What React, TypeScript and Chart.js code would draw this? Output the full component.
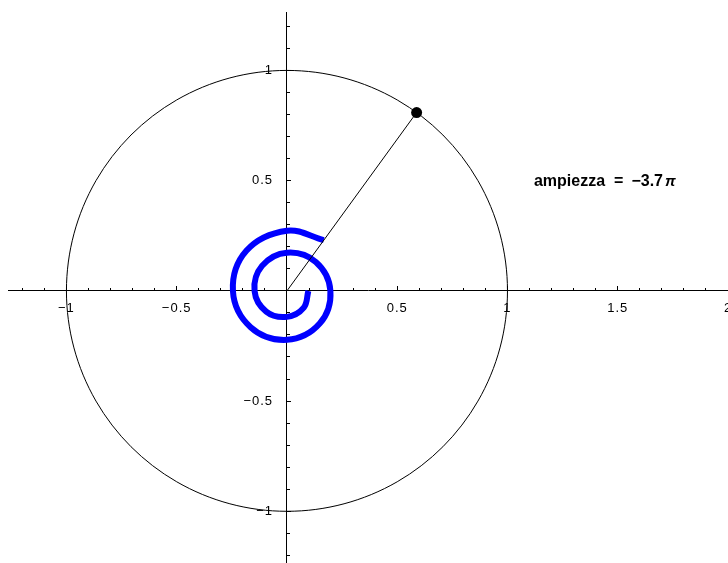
import React, { useEffect, useRef } from 'react';
import { Chart, registerables } from 'chart.js';

Chart.register(...registerables);

// ---- data ----
const xMin = -1.265;
const xMax = 2.0;
const yMin = -1.2345;
const yMax = 1.265;

const xMajorTicks = [-1, -0.5, 0.5, 1, 1.5, 2];
const xMajorLabels = ['−1', '−0.5', '0.5', '1', '1.5', '2'];
const yMajorTicks = [-1, -0.5, 0.5, 1];
const yMajorLabels = ['−1', '−0.5', '0.5', '1'];
const minorStep = 0.1;
// x value where the right edge of the y tick labels sits
const yLabelColumnX = -0.063;

// unit circle, polar samples (degrees), first/last are overlap helpers
const circleAnglesDeg = [-30, 0, 30, 60, 90, 120, 150, 180, 210, 240, 270, 300, 330, 360, 390];
const circleRadius = 1;

// spiral, polar samples: angle in units of pi (negative = clockwise), radius
const spiralTurnsPi = [0, -0.25, -0.5, -0.75, -1, -1.25, -1.5, -1.75, -2, -2.25, -2.5, -2.75, -3, -3.25, -3.5, -3.7];
const spiralRadius = [0.097, 0.108, 0.118, 0.133, 0.147, 0.16, 0.173, 0.185, 0.197, 0.21, 0.222, 0.233, 0.245, 0.259, 0.273, 0.284];

// phase point on the unit circle (ampiezza = -3.7 pi)
const phasePointX = [0.588];
const phasePointY = [0.809];
const rayX = [0, 0.588];
const rayY = [0, 0.809];

const labelParts = ['ampiezza', '=', '−3.7', 'π'];
const labelAnchor = { x: 1.12, y: 0.474 };

const FONT = '"Liberation Sans", Arial, Helvetica, sans-serif';

function labelFor(values: number[], labels: string[], v: number) {
  const i = values.findIndex((t) => Math.abs(t - v) < 1e-9);
  return i >= 0 ? labels[i] : '';
}

const spacingPlugin = {
  id: 'tickLetterSpacing',
  beforeDraw(chart: any) {
    chart.ctx.letterSpacing = '1px';
  },
};

const textPlugin = {
  id: 'ampiezzaText',
  afterDraw(chart: any) {
    const { ctx, scales } = chart;
    const px0 = scales.x.getPixelForValue(labelAnchor.x);
    const py = scales.y.getPixelForValue(labelAnchor.y);
    ctx.save();
    ctx.letterSpacing = '0px';
    ctx.fillStyle = '#000';
    ctx.textBaseline = 'alphabetic';
    ctx.textAlign = 'left';
    const gaps = [9, 8, 2];
    let px = px0;
    labelParts.forEach((part, i) => {
      ctx.font = i === 3 ? `italic bold 15px ${FONT}` : `bold 16px ${FONT}`;
      ctx.fillText(part, px, py);
      px += ctx.measureText(part).width + (gaps[i] || 0);
    });
    ctx.restore();
  },
};

export default function App() {
  const ref = useRef<HTMLCanvasElement>(null);

  useEffect(() => {
    const canvas = ref.current;
    if (!canvas) return;

    const circle = circleAnglesDeg.map((a) => ({
      x: circleRadius * Math.cos((a * Math.PI) / 180),
      y: circleRadius * Math.sin((a * Math.PI) / 180),
    }));
    const spiral = spiralTurnsPi.map((t, i) => ({
      x: spiralRadius[i] * Math.cos(t * Math.PI),
      y: spiralRadius[i] * Math.sin(t * Math.PI),
    }));
    const ray = rayX.map((x, i) => ({ x, y: rayY[i] }));
    const point = phasePointX.map((x, i) => ({ x, y: phasePointY[i] }));
    const nCircle = circle.length;

    const tickFont = { family: FONT, size: 13 };

    const chart = new Chart(canvas, {
      type: 'scatter',
      data: {
        datasets: [
          {
            data: point,
            pointRadius: 5.5,
            pointBackgroundColor: '#000',
            pointBorderWidth: 0,
            showLine: false,
            order: 0,
          },
          {
            data: ray,
            showLine: true,
            borderColor: '#000',
            borderWidth: 1,
            pointRadius: 0,
            tension: 0,
            order: 1,
          },
          {
            data: spiral,
            showLine: true,
            borderColor: '#0000ff',
            borderWidth: 6,
            pointRadius: 0,
            tension: 0.375,
            borderCapStyle: 'butt',
            order: 2,
          },
          {
            data: circle,
            showLine: true,
            borderColor: '#000',
            borderWidth: 1,
            pointRadius: 0,
            tension: 0.351,
            order: 3,
            segment: {
              borderColor: (ctx: any) =>
                ctx.p0DataIndex === 0 || ctx.p1DataIndex === nCircle - 1 ? 'rgba(0,0,0,0)' : undefined,
            },
          },
        ] as any,
      },
      options: {
        responsive: false,
        devicePixelRatio: 1,
        animation: false,
        events: [],
        layout: { padding: { left: 8, top: 52, right: 52, bottom: 37 } },
        plugins: { legend: { display: false }, tooltip: { enabled: false }, title: { display: false } },
        scales: {
          x: {
            type: 'linear',
            min: xMin,
            max: xMax,
            position: { y: 0 } as any,
            z: 1,
            afterBuildTicks: (s: any) => {
              s.ticks = xMajorTicks.map((v) => ({ value: v }));
            },
            grid: { drawOnChartArea: false, tickLength: -5, tickColor: '#000', tickWidth: 1 },
            border: { display: true, color: '#000', width: 1 },
            ticks: {
              color: '#000',
              font: tickFont,
              padding: 15,
              maxRotation: 0,
              autoSkip: false,
              callback: (v: any) => labelFor(xMajorTicks, xMajorLabels, Number(v)),
            },
          },
          xMinor: {
            type: 'linear',
            axis: 'x',
            min: xMin,
            max: xMax,
            position: { y: 0 } as any,
            z: 1,
            grid: { drawOnChartArea: false, tickLength: -3, tickColor: '#000', tickWidth: 1 },
            border: { display: false },
            ticks: { stepSize: minorStep, includeBounds: false, autoSkip: false, padding: 0, callback: () => '' },
          },
          y: {
            type: 'linear',
            min: yMin,
            max: yMax,
            position: { x: 0 } as any,
            z: 1,
            afterBuildTicks: (s: any) => {
              s.ticks = yMajorTicks.map((v) => ({ value: v }));
            },
            grid: { drawOnChartArea: false, tickLength: -5, tickColor: '#000', tickWidth: 1 },
            border: { display: true, color: '#000', width: 1 },
            ticks: { autoSkip: false, padding: 0, callback: () => '' },
          },
          yLabels: {
            type: 'linear',
            axis: 'y',
            min: yMin,
            max: yMax,
            position: { x: yLabelColumnX } as any,
            z: 1,
            afterBuildTicks: (s: any) => {
              s.ticks = yMajorTicks.map((v) => ({ value: v }));
            },
            grid: { display: false, drawTicks: false, drawOnChartArea: false },
            border: { display: false },
            ticks: {
              color: '#000',
              font: tickFont,
              padding: 0,
              autoSkip: false,
              callback: (v: any) => labelFor(yMajorTicks, yMajorLabels, Number(v)),
            },
          },
          yMinor: {
            type: 'linear',
            axis: 'y',
            min: yMin,
            max: yMax,
            position: { x: 0 } as any,
            z: 1,
            grid: { drawOnChartArea: false, tickLength: -3, tickColor: '#000', tickWidth: 1 },
            border: { display: false },
            ticks: { stepSize: minorStep, includeBounds: false, autoSkip: false, padding: 0, callback: () => '' },
          },
        } as any,
      },
      plugins: [spacingPlugin, textPlugin],
    });

    return () => chart.destroy();
  }, []);

  return (
    <div
      style={{
        position: 'fixed',
        left: 0,
        top: 0,
        width: 728,
        height: 563,
        overflow: 'hidden',
        background: '#fff',
      }}
    >
      <canvas
        ref={ref}
        width={780}
        height={640}
        style={{ position: 'absolute', left: 0, top: -40, width: 780, height: 640, display: 'block' }}
      />
    </div>
  );
}
